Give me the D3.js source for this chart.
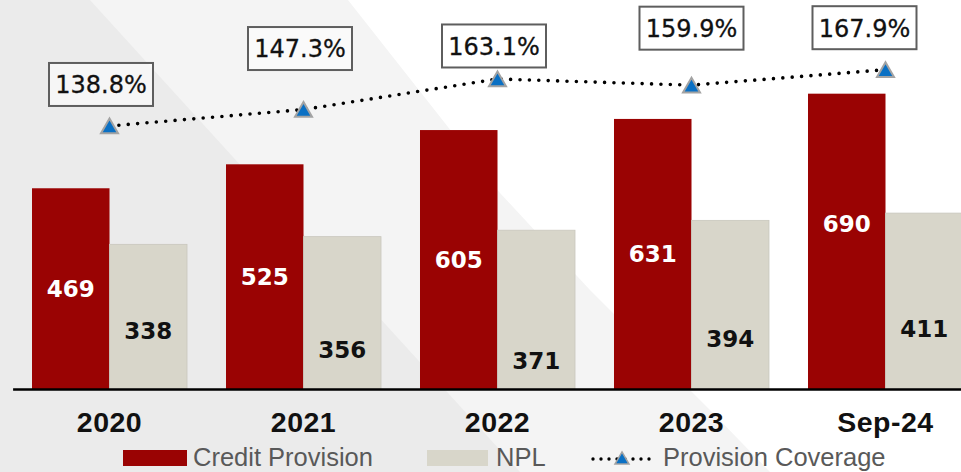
<!DOCTYPE html>
<html>
<head>
<meta charset="utf-8">
<script src="https://cdn.jsdelivr.net/npm/d3@7/dist/d3.min.js"></script>
<style>
  html, body { margin: 0; padding: 0; background: #ebebeb; }
  svg { display: block; }
</style>
</head>
<body>
<svg id="chart" width="961" height="472"></svg>
<script>
// ---- data ----
const categories = ["2020", "2021", "2022", "2023", "Sep-24"];
const creditProvision = [469, 525, 605, 631, 690];
const npl = [338, 356, 371, 394, 411];
const coverage = [138.8, 147.3, 163.1, 159.9, 167.9];
const legendLabels = ["Credit Provision", "NPL", "Provision Coverage"];

// ---- label layout (placement of value labels within / above marks) ----
const creditLabelFrac = [0.5, 0.5, 0.5, 0.5, 0.56];
const nplLabelFrac = [0.40, 0.255, 0.18, 0.30, 0.345];
const boxOffsets = [[-8.5, -41.5], [-3.5, -61], [-3.5, -33], [0, -57], [-21, -42]];

const W = 961, H = 472;
const baseY = 389;
const RED = "#9a0303", GREY = "#d8d6ca", BLUE = "#0a70c4";

const svg = d3.select("#chart");

// background sheen
const bg = svg.append("g");
bg.append("rect").attr("width", W).attr("height", H).attr("fill", "#ebebeb");
bg.append("polygon")
  .attr("points", [[90, 0], [W, 0], [W, H], [520, H]].join(" "))
  .attr("fill", "#f4f4f4");
bg.append("polygon")
  .attr("points", [[348, 0], [W, 0], [W, H], [770, H], [710, 410], [590, 290], [500, 193]].join(" "))
  .attr("fill", "#ffffff");

// scales
const x = d3.scaleBand().domain(categories).range([12.6, 982.4]).paddingInner(0.201).paddingOuter(0.1);
const xs = d3.scaleBand().domain(["credit", "npl"]).range([0, x.bandwidth()]);
const y = d3.scaleLinear().domain([0, 700]).range([baseY, baseY - 0.428 * 700]);
const y2 = d3.scaleLinear().domain([100, 180]).range([201, 46.3]);

const rows = categories.map((c, i) => ({
  cat: c, credit: creditProvision[i], npl: npl[i], cov: coverage[i], i
}));

// bars
const g = svg.append("g");
g.selectAll("rect.credit").data(rows).join("rect")
  .attr("class", "credit")
  .attr("x", d => x(d.cat) + xs("credit"))
  .attr("y", d => y(d.credit))
  .attr("width", xs.bandwidth())
  .attr("height", d => baseY - y(d.credit))
  .attr("fill", RED);

g.selectAll("rect.npl").data(rows).join("rect")
  .attr("class", "npl")
  .attr("x", d => x(d.cat) + xs("npl"))
  .attr("y", d => y(d.npl))
  .attr("width", xs.bandwidth())
  .attr("height", d => baseY - y(d.npl))
  .attr("fill", GREY)
  .attr("stroke", "#c9c7bd")
  .attr("stroke-width", 0.8);

// bar value labels
const vfs = 23;
g.selectAll("text.cv").data(rows).join("text")
  .attr("class", "cv")
  .attr("x", d => x(d.cat) + xs("credit") + xs.bandwidth() / 2)
  .attr("y", d => baseY - creditLabelFrac[d.i] * (baseY - y(d.credit)) + vfs * 0.36)
  .attr("text-anchor", "middle")
  .attr("font-family", "DejaVu Sans, sans-serif")
  .attr("font-weight", "bold")
  .attr("font-size", vfs)
  .attr("fill", "#ffffff")
  .text(d => d.credit);

g.selectAll("text.nv").data(rows).join("text")
  .attr("class", "nv")
  .attr("x", d => x(d.cat) + xs("npl") + xs.bandwidth() / 2)
  .attr("y", d => baseY - nplLabelFrac[d.i] * (baseY - y(d.npl)) + vfs * 0.36)
  .attr("text-anchor", "middle")
  .attr("font-family", "DejaVu Sans, sans-serif")
  .attr("font-weight", "bold")
  .attr("font-size", vfs)
  .attr("fill", "#111111")
  .text(d => d.npl);

// category axis
const axis = svg.append("g")
  .attr("transform", `translate(0,${baseY})`)
  .call(d3.axisBottom(x).tickSize(0).tickSizeOuter(0).tickPadding(23));
axis.select(".domain").attr("stroke", "#000").attr("stroke-width", 2.6);
axis.selectAll(".tick text")
  .attr("font-family", "Liberation Sans, Arial, sans-serif")
  .attr("font-weight", "bold")
  .attr("font-size", 28.5)
  .attr("letter-spacing", "0.5px")
  .attr("fill", "#111");

// provision coverage line
const cx = d => x(d.cat) + x.bandwidth() / 2;
const line = d3.line().x(cx).y(d => y2(d.cov));
svg.append("path")
  .datum(rows)
  .attr("d", line)
  .attr("fill", "none")
  .attr("stroke", "#000")
  .attr("stroke-width", 3.6)
  .attr("stroke-linecap", "round")
  .attr("stroke-dasharray", "0 9.4");

const tri = d3.symbol(d3.symbolTriangle, 125);
svg.selectAll("path.mk").data(rows).join("path")
  .attr("class", "mk")
  .attr("d", tri)
  .attr("transform", d => `translate(${cx(d)},${y2(d.cov) + 2.4})`)
  .attr("fill", BLUE)
  .attr("stroke", "#a3a3a3")
  .attr("stroke-width", 2);

// coverage value boxes
const fmt = d => d3.format(".1f")(d) + "%";
const boxW = 104, boxH = 43;
const boxes = svg.selectAll("g.box").data(rows).join("g")
  .attr("class", "box")
  .attr("transform", d => `translate(${cx(d) + boxOffsets[d.i][0]},${y2(d.cov) + boxOffsets[d.i][1]})`);
boxes.append("rect")
  .attr("x", -boxW / 2).attr("y", -boxH / 2)
  .attr("width", boxW).attr("height", boxH)
  .attr("fill", "rgba(255,255,255,0.55)")
  .attr("stroke", "#5e5e5e")
  .attr("stroke-width", 2);
boxes.append("text")
  .attr("text-anchor", "middle")
  .attr("y", 8.8)
  .attr("font-family", "DejaVu Sans, sans-serif")
  .attr("font-size", 24)
  .attr("stroke", "#111")
  .attr("stroke-width", 0.3)
  .attr("fill", "#111")
  .text(d => fmt(d.cov));

// legend
const leg = svg.append("g");
const lfs = 25.5, lBase = 465.5;
leg.append("rect").attr("x", 123).attr("y", 450).attr("width", 64).attr("height", 16).attr("fill", RED);
leg.append("text").attr("x", 193).attr("y", lBase).text(legendLabels[0]);
leg.append("rect").attr("x", 427).attr("y", 450).attr("width", 61).attr("height", 16).attr("fill", GREY);
leg.append("text").attr("x", 496).attr("y", lBase).text(legendLabels[1]);
leg.append("line")
  .attr("x1", 593).attr("x2", 652).attr("y1", 459).attr("y2", 459)
  .attr("stroke", "#000").attr("stroke-width", 3.4)
  .attr("stroke-linecap", "round").attr("stroke-dasharray", "0 8");
leg.append("path")
  .attr("d", d3.symbol(d3.symbolTriangle, 85))
  .attr("transform", "translate(622,460)")
  .attr("fill", BLUE).attr("stroke", "#a3a3a3").attr("stroke-width", 1.5);
leg.append("text").attr("x", 663).attr("y", lBase).text(legendLabels[2]);
leg.selectAll("text")
  .attr("font-family", "Liberation Sans, Arial, sans-serif")
  .attr("font-size", lfs)
  .attr("fill", "#595959");
</script>
</body>
</html>
